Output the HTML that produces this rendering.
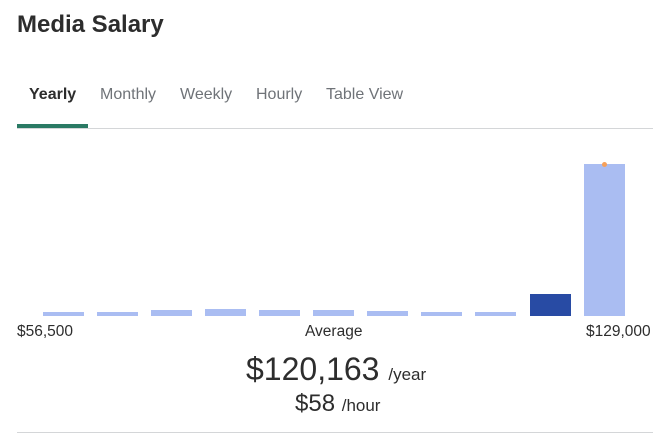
<!DOCTYPE html>
<html><head><style>
body{margin:0;width:665px;height:434px;background:#fff;font-family:"Liberation Sans",sans-serif;position:relative;overflow:hidden;color:#2d2d2d}
.a{position:absolute}
.tab{position:absolute;top:86px;font-size:16px;color:#6f7378}
.bar{position:absolute;width:41px;background:#aabdf2}
</style></head><body>
<div class="a" style="left:17px;top:11px;font-size:24px;font-weight:bold;color:#2d2d2d">Media Salary</div>
<div class="tab" style="left:29px;color:#2d2d2d;font-weight:bold">Yearly</div>
<div class="tab" style="left:100px">Monthly</div>
<div class="tab" style="left:180px">Weekly</div>
<div class="tab" style="left:256px">Hourly</div>
<div class="tab" style="left:326px">Table View</div>
<div class="a" style="left:17px;top:128px;width:636px;height:1px;background:#d4d6d8"></div>
<div class="a" style="left:17px;top:124px;width:71px;height:4px;background:#2a7a64"></div>
<div class="bar" style="left:43px;top:312px;height:4px"></div>
<div class="bar" style="left:97px;top:312px;height:4px"></div>
<div class="bar" style="left:151px;top:310px;height:6px"></div>
<div class="bar" style="left:205px;top:309px;height:7px"></div>
<div class="bar" style="left:259px;top:310px;height:6px"></div>
<div class="bar" style="left:313px;top:310px;height:6px"></div>
<div class="bar" style="left:367px;top:311px;height:5px"></div>
<div class="bar" style="left:421px;top:312px;height:4px"></div>
<div class="bar" style="left:475px;top:312px;height:4px"></div>
<div class="bar" style="left:530px;top:294px;height:22px;background:#284ba4"></div>
<div class="bar" style="left:584px;top:164px;height:152px"></div>
<div class="a" style="left:602px;top:162px;width:5px;height:5px;border-radius:50%;background:#f5a05a"></div>
<div class="a" style="left:17px;top:323px;font-size:15.5px">$56,500</div>
<div class="a" style="left:305px;top:323px;font-size:15.5px">Average</div>
<div class="a" style="left:586px;top:323px;font-size:15.5px">$129,000</div>
<div class="a" style="left:246px;top:350px;font-size:32px;line-height:38px">$120,163 <span style="font-size:17px">/year</span></div>
<div class="a" style="left:295px;top:390px;font-size:24px;line-height:28px">$58 <span style="font-size:17px">/hour</span></div>
<div class="a" style="left:17px;top:432px;width:636px;height:1px;background:#d4d6d8"></div>
</body></html>
